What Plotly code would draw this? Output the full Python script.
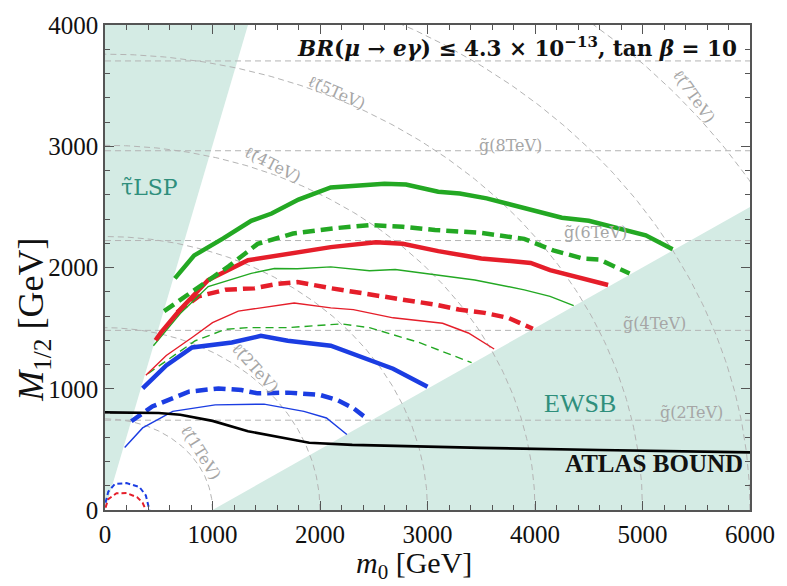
import numpy as np
import plotly.graph_objects as go

# ---- iso-mass guide lines (TeV) ----
slepton_tev = [1, 2, 3, 4, 5, 6, 7]
gluino_tev = [2, 4, 6, 8, 10]
SLEPTON_K = 1.33   # weight of M1/2 in the slepton mass ellipse
GLUINO_K = 2.7     # gluino mass per unit M1/2

# ---- excluded regions (m0, M1/2 corners) ----
lsp_m0 = [0, 1330, 0]
lsp_m12 = [0, 4000, 4000]
ewsb_m0 = [1000, 6000, 6000]
ewsb_m12 = [0, 2500, 0]

# ---- BR(mu -> e gamma) contours ----
green_thick_m0 = [650, 830, 1100, 1360, 1550, 1800, 2100, 2600, 2800, 3100, 3300, 3550, 4250, 4500, 5030, 5280]
green_thick_m12 = [1910, 2100, 2240, 2385, 2445, 2560, 2660, 2690, 2685, 2625, 2610, 2570, 2410, 2385, 2265, 2150]

green_thickdash_m0 = [550, 870, 1150, 1420, 1750, 2150, 2460, 2770, 3070, 3500, 3900, 4170, 4450, 4600, 4880]
green_thickdash_m12 = [1640, 1843, 2010, 2195, 2280, 2325, 2350, 2336, 2309, 2285, 2236, 2141, 2073, 2065, 1951]

red_thick_m0 = [470, 520, 700, 960, 1330, 1700, 2100, 2520, 2770, 3100, 3500, 3960, 4140, 4680]
red_thick_m12 = [1400, 1463, 1653, 1897, 2060, 2115, 2168, 2208, 2195, 2135, 2075, 2038, 1978, 1856]

green_thin_m0 = [450, 700, 960, 1360, 1575, 1790, 2100, 2460, 2700, 3010, 3440, 3900, 4140, 4360]
green_thin_m12 = [1355, 1620, 1843, 1951, 1992, 1990, 2005, 1973, 1984, 1946, 1897, 1816, 1762, 1686]

red_thickdash_m0 = [670, 870, 1120, 1390, 1600, 1790, 2100, 2460, 2770, 3070, 3290, 3530, 3750, 3980]
red_thickdash_m12 = [1630, 1762, 1816, 1829, 1865, 1880, 1829, 1775, 1735, 1694, 1653, 1626, 1585, 1495]

red_thin_m0 = [380, 570, 810, 1000, 1240, 1760, 2100, 2310, 2680, 2980, 3140, 3380, 3620]
red_thin_m12 = [1111, 1274, 1423, 1545, 1640, 1707, 1667, 1653, 1585, 1555, 1540, 1460, 1328]

green_thindash_m0 = [400, 600, 840, 1120, 1330, 1700, 2200, 2460, 2920, 3410]
green_thindash_m12 = [1125, 1247, 1396, 1490, 1504, 1504, 1535, 1504, 1382, 1215]

blue_thick_m0 = [350, 570, 810, 1180, 1450, 1700, 2100, 2310, 2680, 3000]
blue_thick_m12 = [1003, 1192, 1341, 1382, 1436, 1396, 1355, 1287, 1165, 1016]

blue_thickdash_m0 = [245, 440, 780, 1055, 1270, 1420, 1700, 2000, 2160, 2310, 2450]
blue_thickdash_m12 = [732, 854, 976, 1003, 989, 962, 968, 949, 908, 840, 745]

blue_thin_m0 = [183, 350, 630, 1025, 1480, 1700, 1850, 2060, 2250]
blue_thin_m12 = [515, 677, 813, 867, 873, 835, 813, 759, 623]

red_small_m0 = [5, 30, 107, 200, 300, 350, 380]
red_small_m12 = [20, 90, 138, 140, 105, 60, 0]

blue_small_m0 = [5, 30, 92, 200, 320, 380, 413]
blue_small_m12 = [60, 150, 215, 222, 190, 120, 0]

atlas_m0 = [0, 500, 700, 1000, 1330, 1700, 1900, 2300, 2900, 3500, 4600, 6000]
atlas_m12 = [805, 800, 785, 735, 650, 590, 555, 537, 522, 512, 495, 475]

GREEN = "#23a823"
RED = "#e51e2a"
BLUE = "#1b3de2"
TEAL_FILL = "#d4ebe4"
TEAL_TEXT = "#2f8f7c"
GUIDE = "#b4b4b4"
SERIF = "Liberation Serif"
SERIF_MARKS = "DejaVu Serif"   # renders combining tildes cleanly

fig = go.Figure()

# excluded regions
for xs, ys in [(lsp_m0, lsp_m12), (ewsb_m0, ewsb_m12)]:
    fig.add_trace(go.Scatter(x=xs, y=ys, fill="toself", fillcolor=TEAL_FILL,
                             mode="lines", line=dict(width=0), hoverinfo="skip"))

# slepton iso-mass ellipses
t = np.linspace(0, np.pi / 2, 200)
for m in slepton_tev:
    fig.add_trace(go.Scatter(x=1000 * m * np.cos(t), y=1000 * m * np.sin(t) / SLEPTON_K,
                             mode="lines", line=dict(color=GUIDE, width=1, dash="6px,4px"),
                             hoverinfo="skip"))
# gluino iso-mass lines
for mg in gluino_tev:
    yv = 1000 * mg / GLUINO_K
    fig.add_trace(go.Scatter(x=[0, 6000], y=[yv, yv], mode="lines",
                             line=dict(color=GUIDE, width=1, dash="6px,4px"), hoverinfo="skip"))

THICK = 4.5
THIN = 1.4
DASH_THICK = "12px,6px"
DASH_THIN = "8px,5px"

curves = [
    (blue_thin_m0, blue_thin_m12, BLUE, THIN, "solid"),
    (blue_thickdash_m0, blue_thickdash_m12, BLUE, THICK, DASH_THICK),
    (blue_thick_m0, blue_thick_m12, BLUE, THICK, "solid"),
    (green_thindash_m0, green_thindash_m12, GREEN, THIN, DASH_THIN),
    (red_thin_m0, red_thin_m12, RED, THIN, "solid"),
    (red_thickdash_m0, red_thickdash_m12, RED, THICK, DASH_THICK),
    (green_thin_m0, green_thin_m12, GREEN, THIN, "solid"),
    (red_thick_m0, red_thick_m12, RED, THICK, "solid"),
    (green_thickdash_m0, green_thickdash_m12, GREEN, THICK, DASH_THICK),
    (green_thick_m0, green_thick_m12, GREEN, THICK, "solid"),
    (red_small_m0, red_small_m12, RED, 2, "5px,3px"),
    (blue_small_m0, blue_small_m12, BLUE, 2, "5px,3px"),
    (atlas_m0, atlas_m12, "black", 2.6, "solid"),
]
for xs, ys, col, w, d in curves:
    fig.add_trace(go.Scatter(x=xs, y=ys, mode="lines",
                             line=dict(color=col, width=w, dash=d), hoverinfo="skip"))

# guide-line labels
guide_labels = [
    ("ℓ̃(1TeV)", 890, 472, 58),
    ("ℓ̃(2TeV)", 1404, 1171, 48),
    ("ℓ̃(4TeV)", 1560, 2846, 27),
    ("ℓ̃(5TeV)", 2156, 3440, 24),
    ("ℓ̃(7TeV)", 5477, 3407, 55),
    ("g̃(2TeV)", 5459, 805, 0),
    ("g̃(4TeV)", 5110, 1537, 0),
    ("g̃(6TeV)", 4560, 2285, 0),
    ("g̃(8TeV)", 3770, 3008, 0),
]
for txt, xv, yv, ang in guide_labels:
    fig.add_annotation(x=xv, y=yv, text=txt, showarrow=False, textangle=ang,
                       font=dict(family=SERIF_MARKS, size=16, color="#a6a6a6"))

fig.add_annotation(x=413, y=2659, text="τ̃LSP", showarrow=False,
                   font=dict(family=SERIF_MARKS, size=22, color=TEAL_TEXT))
fig.add_annotation(x=4420, y=878, text="EWSB", showarrow=False,
                   font=dict(family=SERIF, size=26, color=TEAL_TEXT))
fig.add_annotation(x=5110, y=382, text="<b>ATLAS BOUND</b>", showarrow=False,
                   font=dict(family=SERIF, size=25, color="#111"))
fig.add_annotation(x=748, y=40, xref="paper", yref="paper", xanchor="right", yanchor="middle",
                   text="<b><i>BR</i>(<i>μ</i> → <i>eγ</i>) ≤ 4.3 × 10<sup>−13</sup>, tan <i>β</i> = 10</b>",
                   showarrow=False, font=dict(family=SERIF_MARKS, size=21.5, color="#111"))

# axis titles
fig.add_annotation(x=33, y=317, xref="paper", yref="paper", xanchor="center", yanchor="middle",
                   text="<i>M</i><sub>1/2</sub> [GeV]",
                   textangle=-90, showarrow=False, font=dict(family=SERIF, size=36, color="#111"))
fig.add_annotation(x=418, y=566, xref="paper", yref="paper", xanchor="center", yanchor="middle",
                   text="<i>m</i><sub>0</sub> [GeV]",
                   showarrow=False, font=dict(family=SERIF, size=30, color="#111"))

W, H = 787, 586
L, R, T, B = 105, 28, 18, 76

# annotations in paper units were given as pixel positions in the figure
for a in fig.layout.annotations:
    if a.xref == "paper":
        a.x = (a.x - L) / (W - L - R)
    if a.yref == "paper":
        a.y = 1 - (a.y - T) / (H - T - B)

axis_common = dict(
    showgrid=False, zeroline=False, showline=True, linecolor="#555", linewidth=1.5,
    mirror="allticks", ticks="inside", ticklen=9, tickwidth=1.2, tickcolor="#555",
    tickfont=dict(family=SERIF, size=25, color="#111"),
    minor=dict(dtick=200, ticks="inside", ticklen=5, tickwidth=1, tickcolor="#555"),
)
fig.update_xaxes(range=[0, 6000], tickvals=[0, 1000, 2000, 3000, 4000, 5000, 6000],
                 ticklabelstandoff=1, **axis_common)
fig.update_yaxes(range=[0, 4000], tickvals=[0, 1000, 2000, 3000, 4000],
                 ticklabelstandoff=0, **axis_common)

fig.update_layout(width=W, height=H, margin=dict(l=L, r=R, t=T, b=B),
                  plot_bgcolor="white", paper_bgcolor="white", showlegend=False)

fig.write_html("out.html")
